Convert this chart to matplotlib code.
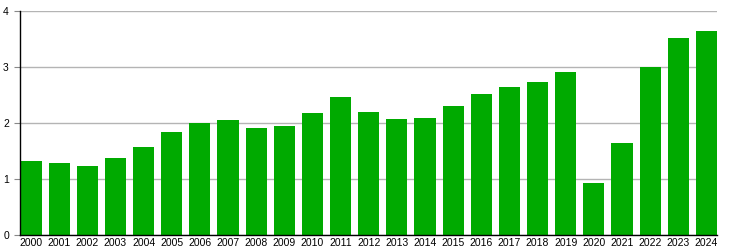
import matplotlib
matplotlib.use("Agg")
import matplotlib.pyplot as plt

years = [str(y) for y in range(2000, 2025)]
values = [1.32, 1.28, 1.23, 1.37, 1.57, 1.83, 1.99, 2.05, 1.90, 1.94,
          2.17, 2.46, 2.19, 2.06, 2.08, 2.30, 2.51, 2.63, 2.72, 2.90,
          0.93, 1.64, 2.99, 3.52, 3.63]
yticks = [0, 1, 2, 3, 4]

plt.rcParams['font.family'] = ['Liberation Sans', 'DejaVu Sans']

fig = plt.figure(figsize=(7.31, 2.5), dpi=100)
W, H = 731, 250
ax = fig.add_axes([20 / W, 1 - 235 / H, (717 - 20) / W, (235 - 10.6) / H])

x = list(range(len(years)))
ax.bar(x, values, width=0.75, color='#00aa00', zorder=3)

ax.set_xlim(-0.39, 24.375)
ax.set_ylim(0, 4)
ax.set_yticks(yticks)
ax.set_yticklabels([str(t) for t in yticks], fontsize=7.5)
ax.set_xticks(x)
ax.set_xticklabels(years, fontsize=7.5)
ax.tick_params(axis='x', length=0, pad=2)
ax.tick_params(axis='y', length=4, width=0.8, color='#888888', pad=4)

ax.grid(axis='y', color='#b4b4b4', linewidth=1, zorder=0)
ax.spines['top'].set_visible(False)
ax.spines['right'].set_visible(False)
ax.spines['left'].set_color('black')
ax.spines['bottom'].set_color('black')
ax.spines['left'].set_linewidth(1)
ax.spines['bottom'].set_linewidth(1)
ax.spines['left'].set_zorder(4)
ax.spines['bottom'].set_zorder(4)

fig.savefig('out.png', dpi=100)
